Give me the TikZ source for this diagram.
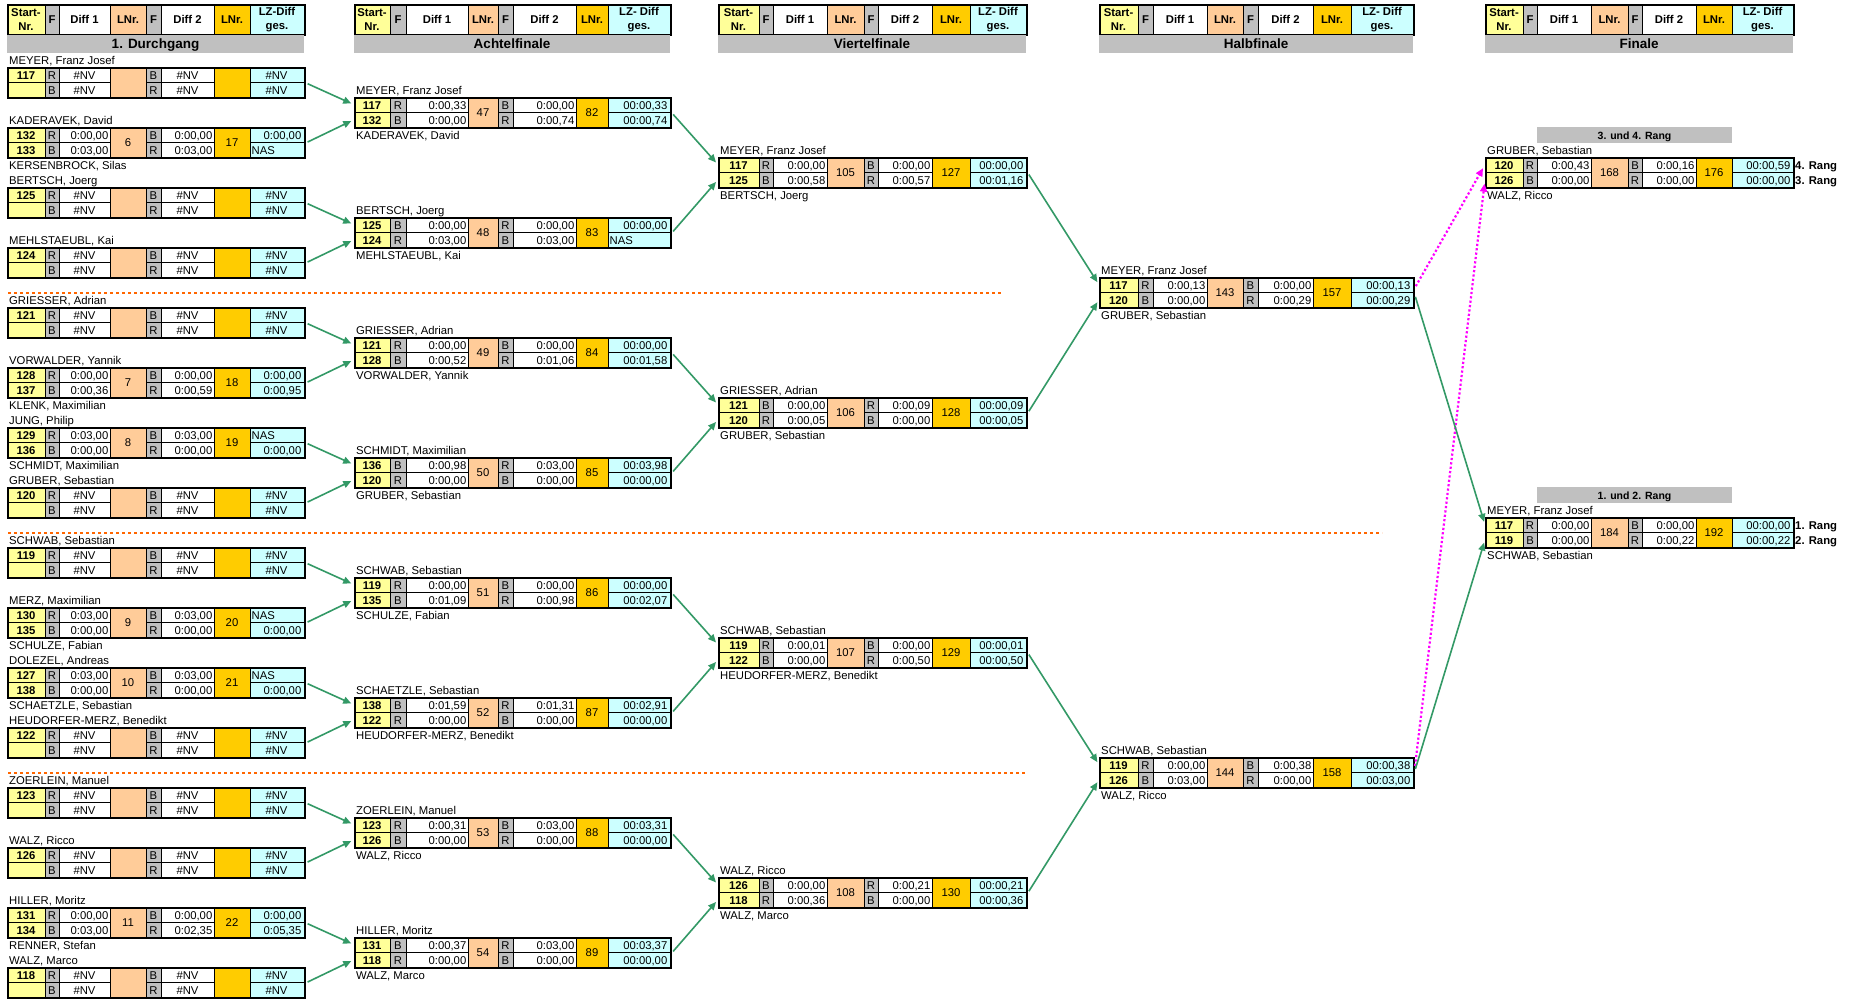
\documentclass[tikz,border=0pt]{standalone}
\usepackage{fontspec}
\setmainfont{Liberation Sans}
\usetikzlibrary{arrows.meta}
\definecolor{cY}{HTML}{FFFF99}
\definecolor{cG}{HTML}{C0C0C0}
\definecolor{cP}{HTML}{FFCC99}
\definecolor{cO}{HTML}{FFCC00}
\definecolor{cC}{HTML}{CCFFFF}
\definecolor{arrgreen}{HTML}{339966}
\definecolor{orng}{HTML}{FF6600}
\definecolor{mag}{HTML}{FF00FF}
\newcommand\ft{\fontsize{11.3}{13.5}\selectfont}
\tikzset{
 tx/.style={inner sep=0pt, font=\ft},
 txb/.style={inner sep=0pt, font=\bfseries\ft},
 ttl/.style={inner sep=0pt, font=\bfseries\fontsize{13.5}{15}\selectfont},
 rng/.style={inner sep=0pt, font=\bfseries\fontsize{10.5}{12}\selectfont},
 bx/.style={draw, line width=1.8pt, inner sep=0pt, minimum height=30pt, anchor=north west},
 sc/.style={inner sep=0pt, minimum height=15pt, anchor=north west},
 gl/.style={line width=0.6pt},
 garr/.style={draw=arrgreen, line width=1.6pt, -{Triangle[length=8pt,width=7pt]}, shorten <=2pt, shorten >=3pt},
 marr/.style={draw=mag, line width=2.2pt, dash pattern=on 2.2pt off 2.2pt, -{Triangle[length=8pt,width=7pt]}, shorten <=2pt, shorten >=4pt},
 odash/.style={draw=orng, line width=2.5pt, dash pattern=on 3pt off 3pt}
}
\def\NVm{N}
\def\NASm{NAS}
\newcommand\setcol[9]{\def\xxa{#1}\def\xxb{#2}\def\xxc{#3}\def\xxd{#4}\def\xxe{#5}\def\xxf{#6}\def\xxg{#7}\def\xxh{#8}\def\xxi{#9}}
\newcommand\cellv[4]{\edef\tmpv{#4}%
 \ifx\tmpv\NVm\node[tx,anchor=base] at ({(#1+#2)/2},{#3}) {\#NV};%
 \else\ifx\tmpv\NASm\node[tx,anchor=base west] at ({#1+1.5},{#3}) {NAS};%
 \else\node[tx,anchor=base east] at ({#2-1.5},{#3}) {#4};%
 \fi\fi}
\newcommand\mbA[9]{\def\mbn{#1}\def\mby{#2}\def\mSa{#3}\def\mSb{#4}\def\mFa{#5}\def\mDa{#6}\def\mFb{#7}\def\mDb{#8}\def\mLa{#9}\mbB}
\newcommand\mbB[9]{%
 \fill[cY] (\xxa,\mby) rectangle (\xxb,{\mby+30});
 \fill[cG] (\xxb,\mby) rectangle (\xxc,{\mby+30});
 \fill[white] (\xxc,\mby) rectangle (\xxd,{\mby+30});
 \fill[cP] (\xxd,\mby) rectangle (\xxe,{\mby+30});
 \fill[cG] (\xxe,\mby) rectangle (\xxf,{\mby+30});
 \fill[white] (\xxf,\mby) rectangle (\xxg,{\mby+30});
 \fill[cO] (\xxg,\mby) rectangle (\xxh,{\mby+30});
 \fill[cC] (\xxh,\mby) rectangle (\xxi,{\mby+30});
 \draw[gl] (\xxb,\mby) -- (\xxb,{\mby+30}) (\xxc,\mby) -- (\xxc,{\mby+30})
   (\xxd,\mby) -- (\xxd,{\mby+30}) (\xxe,\mby) -- (\xxe,{\mby+30})
   (\xxf,\mby) -- (\xxf,{\mby+30}) (\xxg,\mby) -- (\xxg,{\mby+30})
   (\xxh,\mby) -- (\xxh,{\mby+30})
   (\xxa,{\mby+15}) -- (\xxd,{\mby+15}) (\xxe,{\mby+15}) -- (\xxg,{\mby+15})
   (\xxh,{\mby+15}) -- (\xxi,{\mby+15});
 \node[sc,minimum width={(\xxb-\xxa)*1pt}] (\mbn-s1) at (\xxa,\mby) {};
 \node[sc,minimum width={(\xxb-\xxa)*1pt}] (\mbn-s2) at (\xxa,{\mby+15}) {};
 \node[bx,minimum width={(\xxi-\xxa)*1pt}] (\mbn) at (\xxa,\mby) {};
 \node[txb,anchor=base] at ({(\xxa+\xxb)/2},{\mby+12}) {\mSa};
 \node[txb,anchor=base] at ({(\xxa+\xxb)/2},{\mby+27}) {\mSb};
 \node[tx,anchor=base] at ({(\xxb+\xxc)/2},{\mby+12}) {\mFa};
 \node[tx,anchor=base] at ({(\xxb+\xxc)/2},{\mby+27}) {\mFb};
 \cellv{\xxc}{\xxd}{\mby+12}{\mDa}
 \cellv{\xxc}{\xxd}{\mby+27}{\mDb}
 \node[tx,anchor=base] at ({(\xxd+\xxe)/2},{\mby+19.5}) {\mLa};
 \node[tx,anchor=base] at ({(\xxe+\xxf)/2},{\mby+12}) {#1};
 \node[tx,anchor=base] at ({(\xxe+\xxf)/2},{\mby+27}) {#3};
 \cellv{\xxf}{\xxg}{\mby+12}{#2}
 \cellv{\xxf}{\xxg}{\mby+27}{#4}
 \node[tx,anchor=base] at ({(\xxg+\xxh)/2},{\mby+19.5}) {#5};
 \cellv{\xxh}{\xxi-1}{\mby+12}{#6}
 \cellv{\xxh}{\xxi-1}{\mby+27}{#7}
 \node[tx,anchor=base west] at ({\xxa+2},{\mby-3}) {#8};
 \node[tx,anchor=base west] at ({\xxa+2},{\mby+42}) {#9};
}
\newcommand\single[4]{\mbA{#1}{#2}{#3}{}{R}{N}{B}{N}{}{B}{N}{R}{N}{}{N}{N}{#4}{}}
\newcommand\hdr[3]{%
 \fill[cY] (\xxa,4) rectangle (\xxb,34);
 \fill[cG] (\xxb,4) rectangle (\xxc,34);
 \fill[white] (\xxc,4) rectangle (\xxd,34);
 \fill[cP] (\xxd,4) rectangle (\xxe,34);
 \fill[cG] (\xxe,4) rectangle (\xxf,34);
 \fill[white] (\xxf,4) rectangle (\xxg,34);
 \fill[cO] (\xxg,4) rectangle (\xxh,34);
 \fill[cC] (\xxh,4) rectangle (\xxi,34);
 \draw[gl] (\xxb,4) -- (\xxb,34) (\xxc,4) -- (\xxc,34) (\xxd,4) -- (\xxd,34)
   (\xxe,4) -- (\xxe,34) (\xxf,4) -- (\xxf,34) (\xxg,4) -- (\xxg,34) (\xxh,4) -- (\xxh,34);
 \node[bx,minimum width={(\xxi-\xxa)*1pt}] (#1) at (\xxa,4) {};
 \node[txb,align=center] at ({(\xxa+\xxb)/2},19.5) {Start-\\Nr.};
 \node[txb] at ({(\xxb+\xxc)/2},19.5) {F};
 \node[txb] at ({(\xxc+\xxd)/2},19.5) {Diff 1};
 \node[txb] at ({(\xxd+\xxe)/2},19.5) {LNr.};
 \node[txb] at ({(\xxe+\xxf)/2},19.5) {F};
 \node[txb] at ({(\xxf+\xxg)/2},19.5) {Diff 2};
 \node[txb] at ({(\xxg+\xxh)/2},19.5) {LNr.};
 \node[txb,align=center] at ({(\xxh+\xxi)/2},19.5) {#3\\ges.};
 \fill[cG] (\xxa,35) rectangle (\xxi,52.5);
 \node[ttl,anchor=base] (#1-t) at ({(\xxa+\xxi)/2},48.5) {#2};
}
\begin{document}
\begin{tikzpicture}[x=1pt,y=-1pt]
\useasboundingbox (0,0) rectangle (1860,999);
\fill[white] (0,0) rectangle (1860,999);
% dashed separators
\draw[odash] (8,293) -- (1003,293);
\draw[odash] (8,533) -- (1382,533);
\draw[odash] (8,773) -- (1027,773);
% ---------- column 1
\setcol{7}{45}{59}{110}{146}{161}{214}{250}{304}
\hdr{h1}{1. Durchgang}{LZ-Diff}
\single{c1k0}{67}{117}{MEYER, Franz Josef}
\mbA{c1k1}{127}{132}{133}{R}{0:00,00}{B}{0:03,00}{6}
 {B}{0:00,00}{R}{0:03,00}{17}{0:00,00}{NAS}{KADERAVEK, David}{KERSENBROCK, Silas}
\single{c1k2}{187}{125}{BERTSCH, Joerg}
\single{c1k3}{247}{124}{MEHLSTAEUBL, Kai}
\single{c1k4}{307}{121}{GRIESSER, Adrian}
\mbA{c1k5}{367}{128}{137}{R}{0:00,00}{B}{0:00,36}{7}
 {B}{0:00,00}{R}{0:00,59}{18}{0:00,00}{0:00,95}{VORWALDER, Yannik}{KLENK, Maximilian}
\mbA{c1k6}{427}{129}{136}{R}{0:03,00}{B}{0:00,00}{8}
 {B}{0:03,00}{R}{0:00,00}{19}{NAS}{0:00,00}{JUNG, Philip}{SCHMIDT, Maximilian}
\single{c1k7}{487}{120}{GRUBER, Sebastian}
\single{c1k8}{547}{119}{SCHWAB, Sebastian}
\mbA{c1k9}{607}{130}{135}{R}{0:03,00}{B}{0:00,00}{9}
 {B}{0:03,00}{R}{0:00,00}{20}{NAS}{0:00,00}{MERZ, Maximilian}{SCHULZE, Fabian}
\mbA{c1k10}{667}{127}{138}{R}{0:03,00}{B}{0:00,00}{10}
 {B}{0:03,00}{R}{0:00,00}{21}{NAS}{0:00,00}{DOLEZEL, Andreas}{SCHAETZLE, Sebastian}
\single{c1k11}{727}{122}{HEUDORFER-MERZ, Benedikt}
\single{c1k12}{787}{123}{ZOERLEIN, Manuel}
\single{c1k13}{847}{126}{WALZ, Ricco}
\mbA{c1k14}{907}{131}{134}{R}{0:00,00}{B}{0:03,00}{11}
 {B}{0:00,00}{R}{0:02,35}{22}{0:00,00}{0:05,35}{HILLER, Moritz}{RENNER, Stefan}
\single{c1k15}{967}{118}{WALZ, Marco}
% ---------- column 2
\setcol{354}{390}{406}{468}{498}{513}{576}{608}{670}
\hdr{h2}{Achtelfinale}{LZ- Diff}
\mbA{c2k0}{97}{117}{132}{R}{0:00,33}{B}{0:00,00}{47}
 {B}{0:00,00}{R}{0:00,74}{82}{00:00,33}{00:00,74}{MEYER, Franz Josef}{KADERAVEK, David}
\mbA{c2k1}{217}{125}{124}{B}{0:00,00}{R}{0:03,00}{48}
 {R}{0:00,00}{B}{0:03,00}{83}{00:00,00}{NAS}{BERTSCH, Joerg}{MEHLSTAEUBL, Kai}
\mbA{c2k2}{337}{121}{128}{R}{0:00,00}{B}{0:00,52}{49}
 {B}{0:00,00}{R}{0:01,06}{84}{00:00,00}{00:01,58}{GRIESSER, Adrian}{VORWALDER, Yannik}
\mbA{c2k3}{457}{136}{120}{B}{0:00,98}{R}{0:00,00}{50}
 {R}{0:03,00}{B}{0:00,00}{85}{00:03,98}{00:00,00}{SCHMIDT, Maximilian}{GRUBER, Sebastian}
\mbA{c2k4}{577}{119}{135}{R}{0:00,00}{B}{0:01,09}{51}
 {B}{0:00,00}{R}{0:00,98}{86}{00:00,00}{00:02,07}{SCHWAB, Sebastian}{SCHULZE, Fabian}
\mbA{c2k5}{697}{138}{122}{B}{0:01,59}{R}{0:00,00}{52}
 {R}{0:01,31}{B}{0:00,00}{87}{00:02,91}{00:00,00}{SCHAETZLE, Sebastian}{HEUDORFER-MERZ, Benedikt}
\mbA{c2k6}{817}{123}{126}{R}{0:00,31}{B}{0:00,00}{53}
 {B}{0:03,00}{R}{0:00,00}{88}{00:03,31}{00:00,00}{ZOERLEIN, Manuel}{WALZ, Ricco}
\mbA{c2k7}{937}{131}{118}{B}{0:00,37}{R}{0:00,00}{54}
 {R}{0:03,00}{B}{0:00,00}{89}{00:03,37}{00:00,00}{HILLER, Moritz}{WALZ, Marco}
% ---------- column 3
\setcol{718}{759}{773}{827}{864}{878}{932}{970}{1026}
\hdr{h3}{Viertelfinale}{LZ- Diff}
\mbA{c3k0}{157}{117}{125}{R}{0:00,00}{B}{0:00,58}{105}
 {B}{0:00,00}{R}{0:00,57}{127}{00:00,00}{00:01,16}{MEYER, Franz Josef}{BERTSCH, Joerg}
\mbA{c3k1}{397}{121}{120}{B}{0:00,00}{R}{0:00,05}{106}
 {R}{0:00,09}{B}{0:00,00}{128}{00:00,09}{00:00,05}{GRIESSER, Adrian}{GRUBER, Sebastian}
\mbA{c3k2}{637}{119}{122}{R}{0:00,01}{B}{0:00,00}{107}
 {B}{0:00,00}{R}{0:00,50}{129}{00:00,01}{00:00,50}{SCHWAB, Sebastian}{HEUDORFER-MERZ, Benedikt}
\mbA{c3k3}{877}{126}{118}{B}{0:00,00}{R}{0:00,36}{108}
 {R}{0:00,21}{B}{0:00,00}{130}{00:00,21}{00:00,36}{WALZ, Ricco}{WALZ, Marco}
% ---------- column 4
\setcol{1099}{1138}{1153}{1207}{1243}{1258}{1313}{1351}{1413}
\hdr{h4}{Halbfinale}{LZ- Diff}
\mbA{c4k0}{277}{117}{120}{R}{0:00,13}{B}{0:00,00}{143}
 {B}{0:00,00}{R}{0:00,29}{157}{00:00,13}{00:00,29}{MEYER, Franz Josef}{GRUBER, Sebastian}
\mbA{c4k1}{757}{119}{126}{R}{0:00,00}{B}{0:03,00}{144}
 {B}{0:00,38}{R}{0:00,00}{158}{00:00,38}{00:03,00}{SCHWAB, Sebastian}{WALZ, Ricco}
% ---------- column 5
\setcol{1485}{1523}{1537}{1591}{1628}{1642}{1696}{1732}{1793}
\hdr{h5}{Finale}{LZ- Diff}
\fill[cG] (\xxc,127) rectangle (\xxh,143);
\node[rng,anchor=base] (r34) at ({(\xxc+\xxh)/2},139) {3. und 4. Rang};
\mbA{f34}{157}{120}{126}{R}{0:00,43}{B}{0:00,00}{168}
 {B}{0:00,16}{R}{0:00,00}{176}{00:00,59}{00:00,00}{GRUBER, Sebastian}{WALZ, Ricco}
\node[txb,anchor=base west] (r4) at (1795,169) {4. Rang};
\node[txb,anchor=base west] (r3) at (1795,184) {3. Rang};
\fill[cG] (\xxc,487) rectangle (\xxh,503);
\node[rng,anchor=base] (r12) at ({(\xxc+\xxh)/2},499) {1. und 2. Rang};
\mbA{f12}{517}{117}{119}{R}{0:00,00}{B}{0:00,00}{184}
 {B}{0:00,00}{R}{0:00,22}{192}{00:00,00}{00:00,22}{MEYER, Franz Josef}{SCHWAB, Sebastian}
\node[txb,anchor=base west] (r1) at (1795,529) {1. Rang};
\node[txb,anchor=base west] (r2) at (1795,544) {2. Rang};
% ---------- connectors
\foreach \m in {0,...,7}{
 \pgfmathtruncatemacro\ia{2*\m}\pgfmathtruncatemacro\ib{2*\m+1}
 \draw[garr] (c1k\ia.east) -- (c2k\m-s1.west);
 \draw[garr] (c1k\ib.east) -- (c2k\m-s2.west);
}
\foreach \m in {0,...,3}{
 \pgfmathtruncatemacro\ia{2*\m}\pgfmathtruncatemacro\ib{2*\m+1}
 \draw[garr] (c2k\ia.east) -- (c3k\m-s1.west);
 \draw[garr] (c2k\ib.east) -- (c3k\m-s2.west);
}
\foreach \m in {0,1}{
 \pgfmathtruncatemacro\ia{2*\m}\pgfmathtruncatemacro\ib{2*\m+1}
 \draw[garr] (c3k\ia.east) -- (c4k\m-s1.west);
 \draw[garr] (c3k\ib.east) -- (c4k\m-s2.west);
}
\draw[marr] ([yshift=5pt]c4k0.east) -- (f34-s1.west);
\draw[marr] ([yshift=5pt]c4k1.east) -- (f34-s2.west);
\draw[garr] ([yshift=-2pt]c4k0.east) -- (f12-s1.west);
\draw[garr] ([yshift=2pt]c4k1.east) -- (f12-s2.west);
\end{tikzpicture}
\end{document}
